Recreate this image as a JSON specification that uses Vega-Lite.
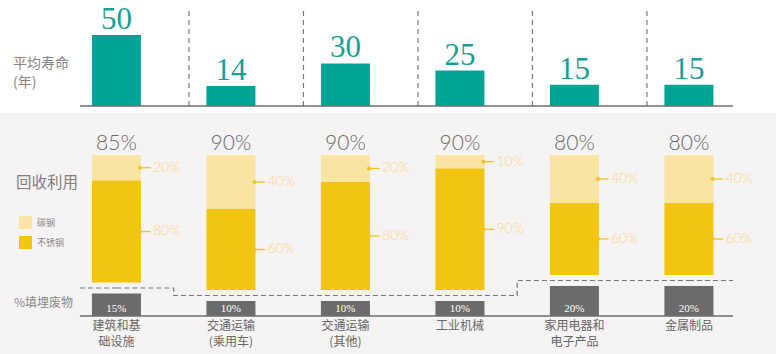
{
  "$schema": "https://vega.github.io/schema/vega-lite/v6.json",
  "padding": 0,
  "spacing": 0,
  "background": "#f5f3f3",
  "config": {"view": {"stroke": null}, "text": {"font": "Noto Sans CJK SC"}},
  "datasets": {
    "main": [
      {"cat": "建筑和基础设施", "label": "建筑和基\n础设施", "life": 50, "rate": 0.85, "landfill": 0.15},
      {"cat": "交通运输(乘用车)", "label": "交通运输\n(乘用车)", "life": 14, "rate": 0.9, "landfill": 0.1},
      {"cat": "交通运输(其他)", "label": "交通运输\n(其他)", "life": 30, "rate": 0.9, "landfill": 0.1},
      {"cat": "工业机械", "label": "工业机械", "life": 25, "rate": 0.9, "landfill": 0.1},
      {"cat": "家用电器和电子产品", "label": "家用电器和\n电子产品", "life": 15, "rate": 0.8, "landfill": 0.2},
      {"cat": "金属制品", "label": "金属制品", "life": 15, "rate": 0.8, "landfill": 0.2}
    ],
    "steel": [
      {"cat": "建筑和基础设施", "type": "碳钢", "k": 1, "share": 0.2, "amount": 0.17},
      {"cat": "建筑和基础设施", "type": "不锈钢", "k": 2, "share": 0.8, "amount": 0.68},
      {"cat": "交通运输(乘用车)", "type": "碳钢", "k": 1, "share": 0.4, "amount": 0.36},
      {"cat": "交通运输(乘用车)", "type": "不锈钢", "k": 2, "share": 0.6, "amount": 0.54},
      {"cat": "交通运输(其他)", "type": "碳钢", "k": 1, "share": 0.2, "amount": 0.18},
      {"cat": "交通运输(其他)", "type": "不锈钢", "k": 2, "share": 0.8, "amount": 0.72},
      {"cat": "工业机械", "type": "碳钢", "k": 1, "share": 0.1, "amount": 0.09},
      {"cat": "工业机械", "type": "不锈钢", "k": 2, "share": 0.9, "amount": 0.81},
      {"cat": "家用电器和电子产品", "type": "碳钢", "k": 1, "share": 0.4, "amount": 0.32},
      {"cat": "家用电器和电子产品", "type": "不锈钢", "k": 2, "share": 0.6, "amount": 0.48},
      {"cat": "金属制品", "type": "碳钢", "k": 1, "share": 0.4, "amount": 0.32},
      {"cat": "金属制品", "type": "不锈钢", "k": 2, "share": 0.6, "amount": 0.48}
    ]
  },
  "vconcat": [
    {
      "width": 776,
      "height": 113,
      "view": {"fill": "#ffffff", "stroke": null},
      "data": {"name": "main"},
      "encoding": {
        "x": {"field": "cat", "type": "nominal", "axis": null, "sort": null,
          "scale": {"domain": ["建筑和基础设施", "交通运输(乘用车)", "交通运输(其他)", "工业机械", "家用电器和电子产品", "金属制品"], "paddingInner": 0.572, "paddingOuter": 0.6747, "align": 0.595}}
      },
      "layer": [
        {
          "mark": {"type": "bar", "color": "#00a497"},
          "encoding": {
            "y": {"field": "life", "type": "quantitative", "axis": null, "scale": {"domain": [-4.93, 74.65], "nice": false, "zero": false}},
            "y2": {"datum": 0}
          }
        },
        {
          "mark": {"type": "text", "font": "Liberation Serif", "fontSize": 31, "color": "#1a9f97", "dy": -6, "baseline": "alphabetic"},
          "encoding": {
            "y": {"field": "life", "type": "quantitative", "axis": null, "scale": {"domain": [-4.93, 74.65], "nice": false, "zero": false}},
            "text": {"field": "life"}
          }
        },
        {
          "transform": [{"filter": "datum.cat != '金属制品'"}],
          "mark": {"type": "rule", "color": "#7a7a7a", "strokeDash": [5, 4], "strokeWidth": 1.2},
          "encoding": {
            "x": {"field": "cat", "type": "nominal", "bandPosition": 1.98},
            "y": {"datum": 0, "type": "quantitative", "axis": null, "scale": {"domain": [-4.93, 74.65], "nice": false, "zero": false}},
            "y2": {"datum": 67.6}
          }
        },
        {
          "data": {"values": [{}]},
          "mark": {"type": "rule", "color": "#6e6e6e", "strokeWidth": 1.5},
          "encoding": {
            "x": {"datum": "建筑和基础设施", "type": "nominal", "bandPosition": -0.245},
            "x2": {"datum": "金属制品", "bandPosition": 1.4},
            "y": {"datum": 0, "type": "quantitative", "axis": null, "scale": {"domain": [-4.93, 74.65], "nice": false, "zero": false}}
          }
        },
        {
          "data": {"values": [{}]},
          "mark": {"type": "text", "align": "left", "baseline": "top", "lineBreak": "\n", "lineHeight": 19, "fontSize": 14, "color": "#858585"},
          "encoding": {
            "x": {"datum": "建筑和基础设施", "type": "nominal", "bandPosition": -1.612},
            "y": {"datum": 34.2, "type": "quantitative", "axis": null, "scale": {"domain": [-4.93, 74.65], "nice": false, "zero": false}},
            "text": {"value": "平均寿命\n (年)"}
          }
        }
      ]
    },
    {
      "width": 776,
      "height": 241,
      "encoding": {
        "x": {"field": "cat", "type": "nominal", "axis": null, "sort": null,
          "scale": {"domain": ["建筑和基础设施", "交通运输(乘用车)", "交通运输(其他)", "工业机械", "家用电器和电子产品", "金属制品"], "paddingInner": 0.572, "paddingOuter": 0.6747, "align": 0.595}}
      },
      "resolve": {"scale": {"y": "independent"}},
      "layer": [
        {
          "layer": [
            {
              "data": {"name": "steel"},
              "mark": {"type": "bar"},
              "encoding": {
                "y": {"field": "amount", "type": "quantitative", "stack": "zero", "axis": null, "scale": {"domain": [-0.28, 1.32667], "nice": false, "zero": false, "reverse": true}},
                "color": {"field": "type", "type": "nominal",
                  "scale": {"domain": ["碳钢", "不锈钢"], "range": ["#fae4a4", "#f2c512"]},
                  "legend": {"orient": "none", "legendX": 19, "legendY": 216, "title": null, "symbolType": "square", "symbolSize": 169, "symbolStrokeWidth": 0, "labelFontSize": 9, "labelColor": "#888888", "labelFont": "Noto Sans CJK SC", "rowPadding": 7, "labelOffset": 5, "padding": 0}},
                "order": {"field": "k", "type": "quantitative"}
              }
            },
            {
              "data": {"name": "main"},
              "mark": {"type": "text", "font": "Lato", "fontWeight": 300, "fontSize": 21, "color": "#6b6b6b", "dy": -5, "baseline": "alphabetic"},
              "encoding": {
                "y": {"datum": 0, "type": "quantitative", "axis": null, "scale": {"domain": [-0.28, 1.32667], "nice": false, "zero": false, "reverse": true}},
                "text": {"field": "rate", "type": "quantitative", "format": ".0%"}
              }
            },
            {
              "data": {"name": "steel"},
              "transform": [
                {"stack": "amount", "groupby": ["cat"], "sort": [{"field": "k"}], "as": ["lo", "hi"]},
                {"fold": ["lo", "hi"], "as": ["edge", "pos"]}
              ],
              "mark": {"type": "text", "font": "Lato", "fontWeight": 300, "fontSize": 14, "color": "#f5d786", "align": "left", "baseline": "middle"},
              "encoding": {
                "x": {"field": "cat", "type": "nominal", "bandPosition": 1.245},
                "y": {"aggregate": "mean", "field": "pos", "type": "quantitative", "stack": null, "axis": null, "scale": {"domain": [-0.28, 1.32667], "nice": false, "zero": false, "reverse": true}},
                "text": {"field": "share", "type": "quantitative", "format": ".0%"}
              }
            },
            {
              "data": {"name": "steel"},
              "transform": [
                {"stack": "amount", "groupby": ["cat"], "sort": [{"field": "k"}], "as": ["lo", "hi"]},
                {"fold": ["lo", "hi"], "as": ["edge", "pos"]}
              ],
              "mark": {"type": "point", "filled": true, "size": 16, "color": "#f0c419", "opacity": 1},
              "encoding": {
                "x": {"field": "cat", "type": "nominal", "bandPosition": 0.98},
                "y": {"aggregate": "mean", "field": "pos", "type": "quantitative", "stack": null, "axis": null, "scale": {"domain": [-0.28, 1.32667], "nice": false, "zero": false, "reverse": true}},
                "detail": {"field": "type"}
              }
            },
            {
              "data": {"name": "steel"},
              "transform": [
                {"stack": "amount", "groupby": ["cat"], "sort": [{"field": "k"}], "as": ["lo", "hi"]},
                {"fold": ["lo", "hi"], "as": ["edge", "pos"]}
              ],
              "mark": {"type": "point", "shape": "M-1,0L1,0", "filled": false, "size": 90, "color": "#f0c419", "strokeWidth": 1.3, "opacity": 1},
              "encoding": {
                "x": {"field": "cat", "type": "nominal", "bandPosition": 1.1},
                "y": {"aggregate": "mean", "field": "pos", "type": "quantitative", "stack": null, "axis": null, "scale": {"domain": [-0.28, 1.32667], "nice": false, "zero": false, "reverse": true}},
                "detail": {"field": "type"}
              }
            },
            {
              "data": {"values": [{}]},
              "mark": {"type": "text", "align": "left", "baseline": "middle", "fontSize": 15.5, "color": "#7f7f7f"},
              "encoding": {
                "x": {"datum": "建筑和基础设施", "type": "nominal", "bandPosition": -1.551},
                "y": {"datum": 0.1867, "type": "quantitative", "axis": null, "scale": {"domain": [-0.28, 1.32667], "nice": false, "zero": false, "reverse": true}},
                "text": {"value": "回收利用"}
              }
            }
          ]
        },
        {
          "layer": [
            {
              "data": {"name": "main"},
              "mark": {"type": "bar", "color": "#6b6b6b"},
              "encoding": {
                "y": {"field": "landfill", "type": "quantitative", "axis": null, "scale": {"domain": [-0.25333, 1.35333], "nice": false, "zero": false}},
                "y2": {"datum": 0}
              }
            },
            {
              "data": {"name": "main"},
              "mark": {"type": "text", "fontSize": 11, "font": "Liberation Serif", "color": "#ffffff", "dy": -4, "baseline": "alphabetic"},
              "encoding": {
                "y": {"datum": 0, "type": "quantitative", "axis": null, "scale": {"domain": [-0.25333, 1.35333], "nice": false, "zero": false}},
                "text": {"field": "landfill", "type": "quantitative", "format": ".0%"}
              }
            },
            {
              "data": {"values": [{}]},
              "mark": {"type": "rule", "color": "#6e6e6e", "strokeWidth": 1.5},
              "encoding": {
                "x": {"datum": "建筑和基础设施", "type": "nominal", "bandPosition": -0.245},
                "x2": {"datum": "金属制品", "bandPosition": 1.4},
                "y": {"datum": 0, "type": "quantitative", "axis": null, "scale": {"domain": [-0.25333, 1.35333], "nice": false, "zero": false}}
              }
            },
            {
              "data": {"name": "main"},
              "mark": {"type": "line", "interpolate": "step", "color": "#777777", "strokeDash": [5, 3], "strokeWidth": 1.2, "yOffset": -5.5},
              "encoding": {
                "y": {"field": "landfill", "type": "quantitative", "axis": null, "scale": {"domain": [-0.25333, 1.35333], "nice": false, "zero": false}}
              }
            },
            {
              "data": {"name": "main"},
              "transform": [{"filter": "datum.cat == '建筑和基础设施'"}],
              "mark": {"type": "rule", "color": "#777777", "strokeDash": [5, 3], "strokeWidth": 1.2, "yOffset": -5.5},
              "encoding": {
                "x": {"datum": "建筑和基础设施", "type": "nominal", "bandPosition": -0.245},
                "x2": {"datum": "建筑和基础设施", "bandPosition": 0.5},
                "y": {"field": "landfill", "type": "quantitative", "axis": null, "scale": {"domain": [-0.25333, 1.35333], "nice": false, "zero": false}}
              }
            },
            {
              "data": {"name": "main"},
              "transform": [{"filter": "datum.cat == '金属制品'"}],
              "mark": {"type": "rule", "color": "#777777", "strokeDash": [5, 3], "strokeWidth": 1.2, "yOffset": -5.5},
              "encoding": {
                "x": {"datum": "金属制品", "type": "nominal", "bandPosition": 0.5},
                "x2": {"datum": "金属制品", "bandPosition": 1.4},
                "y": {"field": "landfill", "type": "quantitative", "axis": null, "scale": {"domain": [-0.25333, 1.35333], "nice": false, "zero": false}}
              }
            },
            {
              "data": {"name": "main"},
              "mark": {"type": "text", "fontSize": 12, "color": "#666666", "baseline": "top", "dy": 5, "lineBreak": "\n", "lineHeight": 16},
              "encoding": {
                "y": {"datum": 0, "type": "quantitative", "axis": null, "scale": {"domain": [-0.25333, 1.35333], "nice": false, "zero": false}},
                "text": {"field": "label"}
              }
            },
            {
              "data": {"values": [{}]},
              "mark": {"type": "text", "align": "left", "baseline": "middle", "fontSize": 12, "color": "#888888"},
              "encoding": {
                "x": {"datum": "建筑和基础设施", "type": "nominal", "bandPosition": -1.592},
                "y": {"datum": 0.0867, "type": "quantitative", "axis": null, "scale": {"domain": [-0.25333, 1.35333], "nice": false, "zero": false}},
                "text": {"value": "%填埋废物"}
              }
            }
          ]
        }
      ]
    }
  ]
}
